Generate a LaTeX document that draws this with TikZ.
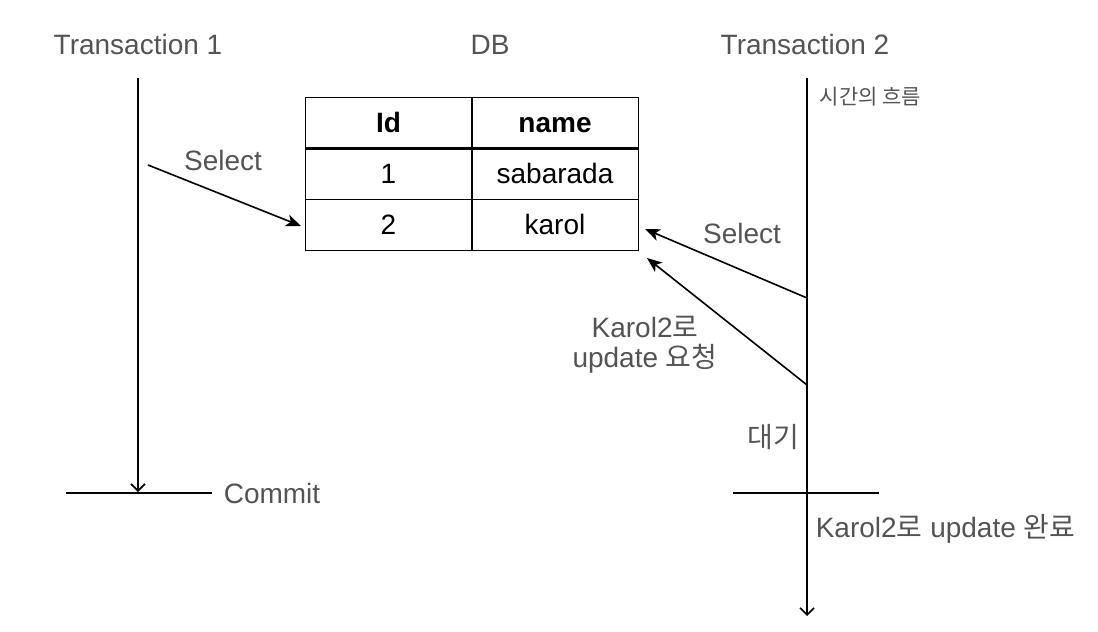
\documentclass[tikz,border=0pt]{standalone}
\usepackage{fontspec}
\setmainfont{Liberation Sans}
\newfontfamily\kr{Noto Sans CJK KR}
\usetikzlibrary{arrows.meta}
\definecolor{txtc}{rgb}{0.33,0.33,0.33}

\begin{document}
\begin{tikzpicture}[x=1pt, y=-1pt, line width=1.6pt,
	lbl/.style={font=\fontsize{28}{30}\selectfont, text=txtc, inner sep=0pt},
	cell/.style={rectangle, draw, line width=0.8pt, minimum width=167pt, minimum height=51pt,
	      font=\fontsize{28}{30}\selectfont, text height=20pt, text depth=0pt, inner sep=0pt},
	life/.style={-{Straight Barb[length=7pt, width=14pt]}},
	msg/.style={-{Stealth[length=15pt, width=12pt, inset=4pt]}},]
	 \useasboundingbox (0,0) rectangle (1098,632);

	 % headings
	 \node[lbl, anchor=base] (head1) at (138,54) {Transaction 1};
	 \node[lbl, anchor=base] (headdb) at (490,54) {DB};
	 \node[lbl, anchor=base] (head2) at (805,54) {Transaction 2};

	 % DB table
	 \node[cell, font=\fontsize{28}{30}\selectfont\bfseries] (idhead) at (388.5,122.5) {Id};
	 \node[cell, font=\fontsize{28}{30}\selectfont\bfseries] (namehead) at (555,122.5) {name};
	 \node[cell] (id1) at (388.5,173.5) {1};
	 \node[cell] (name1) at (555,173.5) {sabarada};
	 \node[cell] (id2) at (388.5,224.5) {2};
	 \node[cell] (name2) at (555,224.5) {karol};
	 \draw[line width=2.6pt] (idhead.south west) -- (namehead.south east);

	 % Transaction 1
	 \coordinate (t1top) at (138,78);
	 \coordinate (t1end) at (138,492);
	 \coordinate (t1sel) at (148,165);
	 \coordinate (db1) at (301,226);
	 \coordinate (cmL) at (66,493);
	 \coordinate (cmR) at (212,493);
	 \draw[life] (t1top) -- (t1end);
	 \draw (cmL) -- (cmR);
	 \node[lbl, anchor=base west] (commit) at (223,503) {Commit};
	 \draw[msg] (t1sel) -- (db1);
	 \node[lbl, anchor=base] (sel1) at (223,170) {Select};

	 % Transaction 2
	 \coordinate (t2top) at (807,78);
	 \coordinate (t2end) at (807,616);
	 \coordinate (t2sel) at (807,298);
	 \coordinate (t2upd) at (807,385);
	 \coordinate (db2) at (645,229);
	 \coordinate (db3) at (647,258);
	 \coordinate (doneL) at (733,493);
	 \coordinate (doneR) at (879,493);
	 \draw[life] (t2top) -- (t2end);
	 \draw (doneL) -- (doneR);
	 \draw[msg] (t2sel) -- (db2);
	 \draw[msg] (t2upd) -- (db3);
	 \node[lbl, anchor=base] (sel2) at (742,243) {Select};
	 \node[lbl, anchor=base, align=center] (upd) at (645,367) {Karol2{\kr 로}\\update {\kr 요청}};
	 \node[lbl, anchor=base east] (wait) at (800,447) {\kr 대기};
	 \node[lbl, anchor=base west] (done) at (815,537) {Karol2{\kr 로} update {\kr 완료}};
	 \node[lbl, anchor=base west, font=\kr\fontsize{21}{24}\selectfont] (flow) at (819,104) {시간의 흐름};
\end{tikzpicture}
\end{document}
